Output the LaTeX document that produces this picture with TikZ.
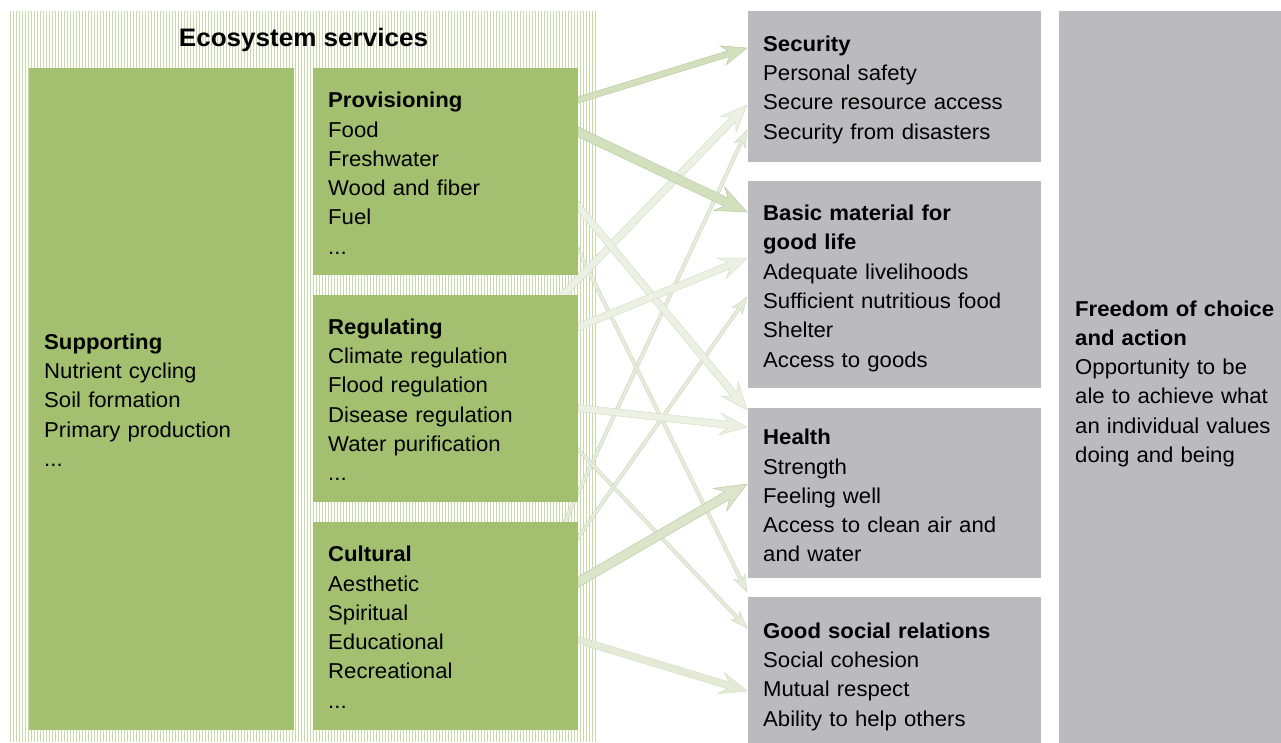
\documentclass[tikz,border=0pt]{standalone}
\usepackage{fontspec}
\setmainfont{Liberation Sans}[FakeStretch=1.03]
\usetikzlibrary{calc}
\definecolor{boxgreen}{HTML}{A3BF70}
\definecolor{stripe}{HTML}{C6D9A6}
\definecolor{boxgray}{HTML}{BBBBBF}
\definecolor{arrmid}{HTML}{D3E0BE}
\definecolor{arrmidE}{HTML}{BCCAA5}
\definecolor{arrlight}{HTML}{EBF1E3}
\definecolor{arrlightE}{HTML}{D5DFC7}
\definecolor{arrthin}{HTML}{E6EDDC}
\definecolor{arrthinE}{HTML}{CDD8BE}
\newcommand\fatarrow[7]{%
  \filldraw[#1]
    ($(#2)!#4!90:(#3)$) --
    ($($(#3)!#7!(#2)$)!#4!90:(#3)$) --
    ($($(#3)!#6!(#2)$)!#5!90:(#3)$) --
    (#3) --
    ($($(#3)!#6!(#2)$)!#5!-90:(#3)$) --
    ($($(#3)!#7!(#2)$)!#4!-90:(#3)$) --
    ($(#2)!#4!-90:(#3)$) -- cycle;}
\begin{document}
\begin{tikzpicture}[x=1pt,y=-1pt,
  txt/.style={font=\fontsize{21.5}{29.3}\selectfont},
  boxshape/.style={draw=none, anchor=north west, inner sep=0pt},
  boxtext/.style={txt, anchor=north west, align=left, inner xsep=15pt, inner ysep=0pt},
  greenfill/.style={fill=boxgreen},
  grayfill/.style={fill=boxgray},
  medarr/.style={fill=arrmid, draw=arrmidE, line width=0.5pt},
  lightarr/.style={fill=arrlight, draw=arrlightE, line width=0.5pt},
  thinarr/.style={fill=arrthin, draw=arrthinE, line width=0.5pt}]
\useasboundingbox (0,0) rectangle (1281,742);
\clip (0,0) rectangle (1281,742);
% striped background
\foreach \i in {0,...,195} \draw[stripe, line width=1.4pt] ({10.7+3*\i},11) -- ({10.7+3*\i},742);
% box outlines (shapes)
\path (29,68) node[boxshape, minimum width=265pt, minimum height=662pt] (sup) {};
\path (313,68) node[boxshape, minimum width=265pt, minimum height=207pt] (prov) {};
\path (313,295) node[boxshape, minimum width=265pt, minimum height=207pt] (reg) {};
\path (313,522) node[boxshape, minimum width=265pt, minimum height=208pt] (cult) {};
\path (748,11) node[boxshape, minimum width=293pt, minimum height=151pt] (sec) {};
\path (748,181) node[boxshape, minimum width=293pt, minimum height=207pt] (basic) {};
\path (748,408) node[boxshape, minimum width=293pt, minimum height=170pt] (health) {};
\path (748,597) node[boxshape, minimum width=293pt, minimum height=154pt] (social) {};
\path (1059,11) node[boxshape, minimum width=222pt, minimum height=739pt] (free) {};
% arrow end points
\coordinate (aS) at ($(prov.north east)+(-18,37.5)$);  \coordinate (aE) at ($(sec.north west)+(-1,37)$);
\coordinate (bS) at ($(prov.north east)+(-18,55.5)$);  \coordinate (bE) at ($(basic.north west)+(-1,31)$);
\coordinate (cS) at ($(reg.north east)+(-33,18)$);     \coordinate (cE) at ($(sec.north west)+(-1,94)$);
\coordinate (dS) at ($(cult.north east)+(-24.5,23)$);  \coordinate (dE) at ($(sec.north west)+(-1,119)$);
\coordinate (eS) at ($(prov.north east)+(-18,117)$);   \coordinate (eE) at ($(health.north west)+(-1,2)$);
\coordinate (fS) at ($(reg.north east)+(-18,39.3)$);   \coordinate (fE) at ($(basic.north west)+(-1,77)$);
\coordinate (gS) at ($(reg.north east)+(-18,111)$);    \coordinate (gE) at ($(health.north west)+(-1,19)$);
\coordinate (hS) at ($(cult.north east)+(-18,70.4)$);  \coordinate (hE) at ($(health.north west)+(-1,76)$);
\coordinate (iS) at ($(cult.north east)+(-18,112.6)$); \coordinate (iE) at ($(social.north west)+(-1,94)$);
\coordinate (jS) at ($(prov.north east)+(-18,145.6)$); \coordinate (jE) at ($(social.north west)+(-1,-5)$);
\coordinate (kS) at ($(reg.north east)+(-18,136)$);    \coordinate (kE) at ($(social.north west)+(-1,31)$);
\coordinate (lS) at ($(cult.north east)+(-18,40.6)$);  \coordinate (lE) at ($(basic.north west)+(-1,116)$);
% thin arrows
\fatarrow{thinarr}{dS}{dE}{1.6pt}{6pt}{17pt}{13pt}
\fatarrow{thinarr}{jS}{jE}{1.6pt}{6pt}{17pt}{13pt}
\fatarrow{thinarr}{kS}{kE}{1.6pt}{6pt}{17pt}{13pt}
\fatarrow{thinarr}{lS}{lE}{1.6pt}{6pt}{17pt}{13pt}
% light arrows
\fatarrow{lightarr}{cS}{cE}{3.5pt}{11pt}{27pt}{20pt}
\fatarrow{lightarr}{eS}{eE}{3.5pt}{11pt}{27pt}{20pt}
\fatarrow{lightarr}{fS}{fE}{3.5pt}{11pt}{27pt}{20pt}
\fatarrow{lightarr}{gS}{gE}{3.5pt}{11pt}{27pt}{20pt}
\fatarrow{lightarr, fill=arrlight!65!arrmid}{iS}{iE}{3.5pt}{11pt}{27pt}{20pt}
% medium arrows
\fatarrow{medarr}{aS}{aE}{3pt}{10pt}{25pt}{19pt}
\fatarrow{medarr}{bS}{bE}{4.5pt}{13pt}{31pt}{23pt}
\fatarrow{medarr, fill=arrmid!70!arrlight}{hS}{hE}{4.5pt}{13pt}{31pt}{23pt}
% box fills
\foreach \b in {sup,prov,reg,cult} \fill[greenfill] (\b.north west) rectangle (\b.south east);
\foreach \b in {sec,basic,health,social,free} \fill[grayfill] (\b.north west) rectangle (\b.south east);
% title
\node[font=\bfseries\fontsize{25.3}{30}\selectfont] (title) at (303.5,39.5) {Ecosystem services};
% texts
\node[boxtext, text width=235pt, anchor=west] (supT) at ($(sup.west)+(0,1)$) {\textbf{Supporting}\\Nutrient cycling\\Soil formation\\Primary production\\...};
\node[boxtext, text width=235pt, anchor=west] (provT) at ($(prov.west)+(0,1.5)$) {\textbf{Provisioning}\\Food\\Freshwater\\Wood and fiber\\Fuel\\...};
\node[boxtext, text width=235pt, anchor=west] (regT) at ($(reg.west)+(0,1)$) {\textbf{Regulating}\\Climate regulation\\Flood regulation\\Disease regulation\\Water purification\\...};
\node[boxtext, text width=235pt, anchor=west] (cultT) at ($(cult.west)+(0,1)$) {\textbf{Cultural}\\Aesthetic\\Spiritual\\Educational\\Recreational\\...};
\node[boxtext, text width=263pt, anchor=west] (secT) at ($(sec.west)+(0,3)$) {\textbf{Security}\\Personal safety\\Secure resource access\\Security from disasters};
\node[boxtext, text width=263pt, anchor=west] (basicT) at ($(basic.west)+(0,3.5)$) {\textbf{Basic material for}\\\textbf{good life}\\Adequate livelihoods\\Sufficient nutritious food\\Shelter\\Access to goods};
\node[boxtext, text width=263pt, anchor=west] (healthT) at ($(health.west)+(0,2.5)$) {\textbf{Health}\\Strength\\Feeling well\\Access to clean air and\\and water};
\node[boxtext, text width=263pt, anchor=west] (socialT) at ($(social.west)+(0,2.5)$) {\textbf{Good social relations}\\Social cohesion\\Mutual respect\\Ability to help others};
\node[boxtext, text width=210pt, inner xsep=16pt, anchor=west] (freeT) at ($(free.west)+(0,3)$) {\textbf{Freedom of choice}\\\textbf{and action}\\Opportunity to be\\ale to achieve what\\an individual values\\doing and being};
\end{tikzpicture}
\end{document}
